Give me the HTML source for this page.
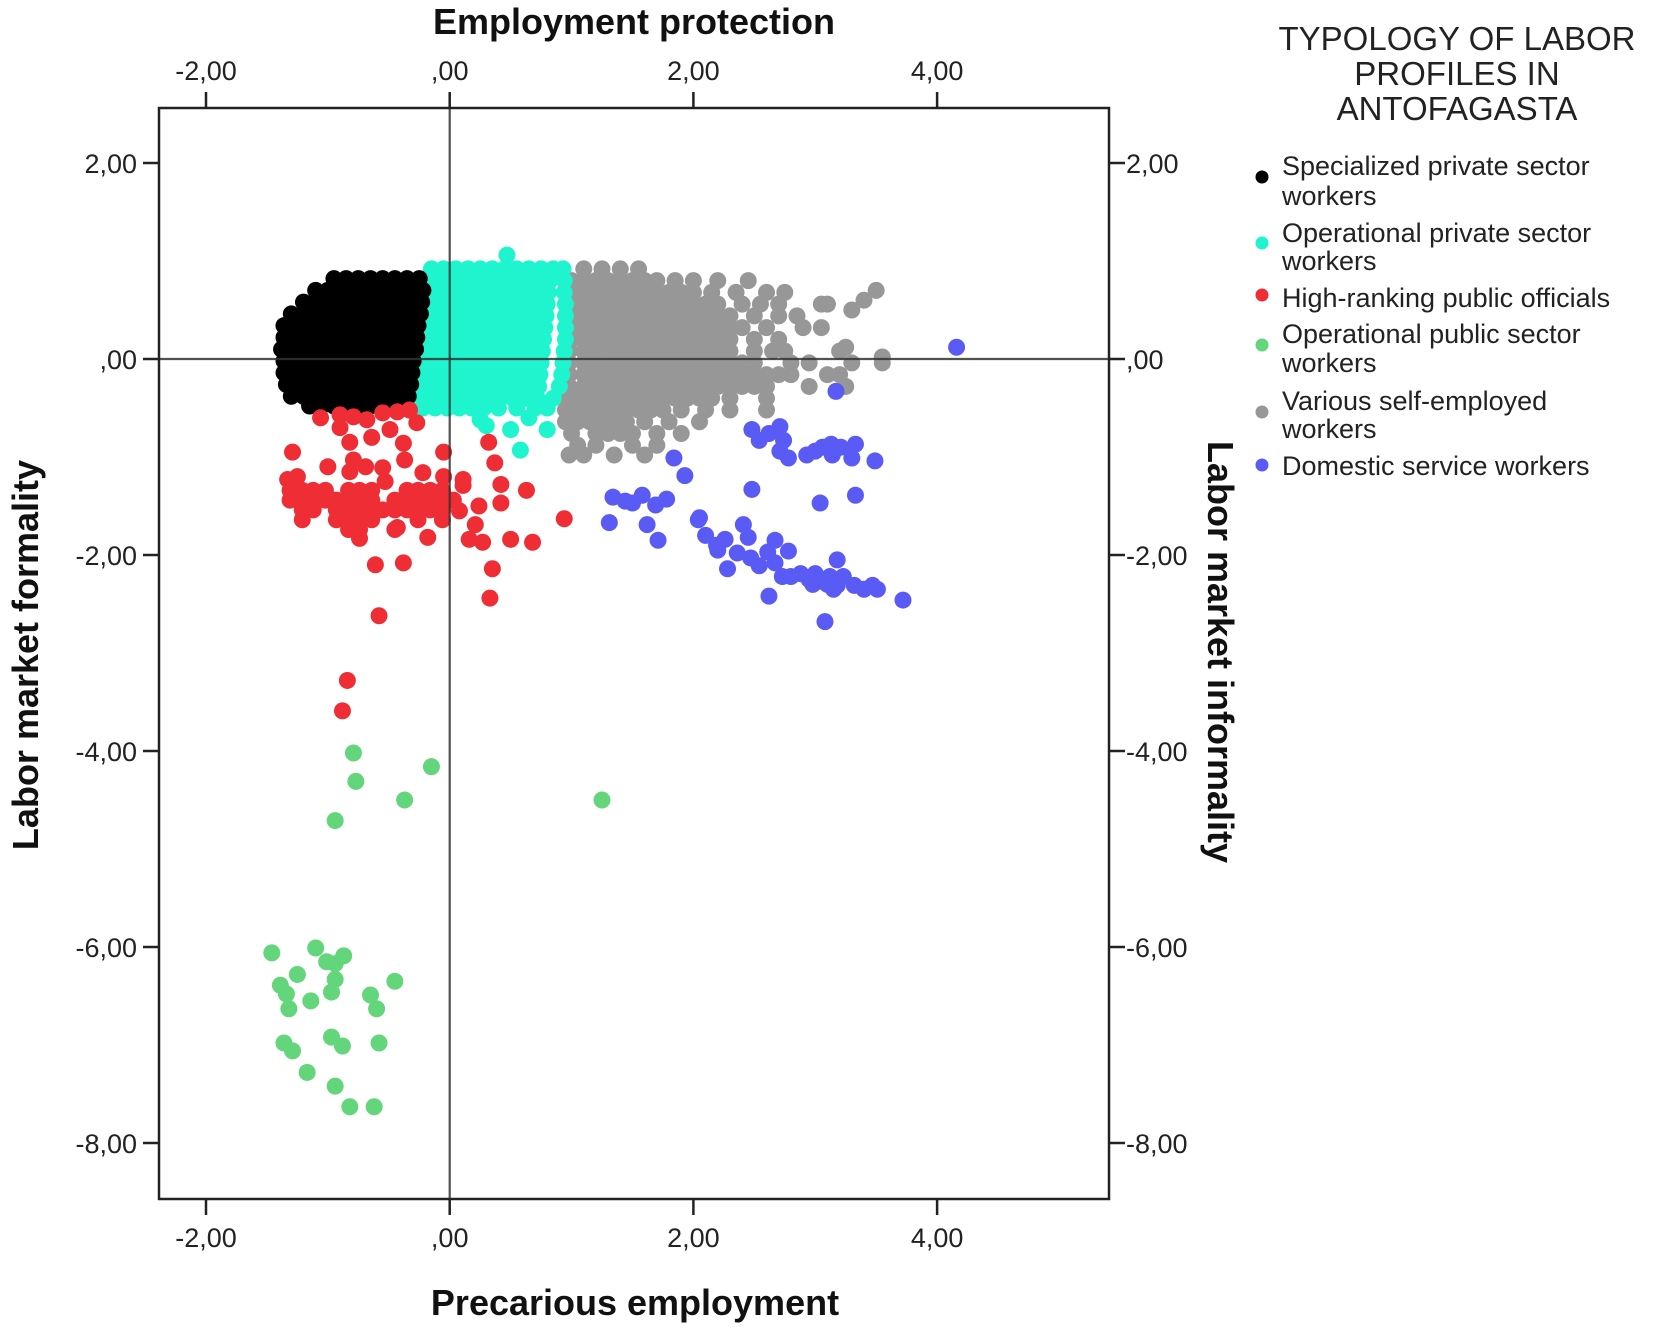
<!DOCTYPE html>
<html><head><meta charset="utf-8"><style>
html,body{margin:0;padding:0;background:#fff;}
svg{display:block;font-family:"Liberation Sans",sans-serif;}
</style></head><body>
<svg id="chart" width="1654" height="1330" viewBox="0 0 1654 1330" xmlns="http://www.w3.org/2000/svg">
<g id="marks"></g>
<g id="axes"></g>
<g id="legend"></g>
</svg>
<script>
const xTicks = [-2, 0, 2, 4];
const yTicks = [2, 0, -2, -4, -6, -8];
const xTickLabels = ["-2,00", ",00", "2,00", "4,00"];
const yTickLabels = ["2,00", ",00", "-2,00", "-4,00", "-6,00", "-8,00"];
const seriesNames = ["Specialized private sector workers","Operational private sector workers","High-ranking public officials","Operational public sector workers","Various self-employed workers","Domestic service workers"];
const seriesColors = ["#000000","#1ef5cf","#ee2d35","#63d57a","#979797","#5a5af5"];

// Specialized private sector workers (rows: [y, x values])
const blackRows = [
 [0.82,[-0.95,-0.85,-0.75,-0.65,-0.55,-0.45,-0.35,-0.25]],
 [0.70,[-1.1,-1.0,-0.9,-0.8,-0.7,-0.6,-0.5,-0.4,-0.3,-0.22]],
 [0.58,[-1.2,-1.1,-1.0,-0.9,-0.8,-0.7,-0.6,-0.5,-0.4,-0.3,-0.23]],
 [0.46,[-1.3,-1.2,-1.1,-1.0,-0.9,-0.8,-0.7,-0.6,-0.5,-0.4,-0.3,-0.24]],
 [0.34,[-1.36,-1.26,-1.16,-1.06,-0.96,-0.86,-0.76,-0.66,-0.56,-0.46,-0.36,-0.26]],
 [0.22,[-1.36,-1.26,-1.16,-1.06,-0.96,-0.86,-0.76,-0.66,-0.56,-0.46,-0.36,-0.27]],
 [0.10,[-1.38,-1.28,-1.18,-1.08,-0.98,-0.88,-0.78,-0.68,-0.58,-0.48,-0.38,-0.28]],
 [-0.02,[-1.36,-1.26,-1.16,-1.06,-0.96,-0.86,-0.76,-0.66,-0.56,-0.46,-0.38,-0.30]],
 [-0.14,[-1.36,-1.26,-1.16,-1.06,-0.96,-0.86,-0.76,-0.66,-0.56,-0.46,-0.38,-0.31]],
 [-0.26,[-1.34,-1.24,-1.14,-1.04,-0.94,-0.84,-0.74,-0.64,-0.54,-0.44,-0.32]],
 [-0.38,[-1.30,-1.20,-1.10,-1.00,-0.90,-0.80,-0.70,-0.60,-0.50,-0.42,-0.34]],
 [-0.48,[-1.15,-1.05,-0.95,-0.85,-0.75,-0.65,-0.55,-0.45,-0.36]]
];
// Operational private sector workers
const cyanRows = [
 [0.92,[-0.15,-0.05,0.05,0.15,0.25,0.35,0.45,0.55,0.65,0.75,0.85,0.93]],
 [0.80,[-0.18,-0.08,0.02,0.12,0.22,0.32,0.42,0.52,0.62,0.72,0.82,0.94]],
 [0.68,[-0.19,-0.09,0.01,0.11,0.21,0.31,0.41,0.51,0.61,0.71,0.81,0.94]],
 [0.56,[-0.20,-0.10,0.00,0.10,0.20,0.30,0.40,0.50,0.60,0.70,0.80,0.95]],
 [0.44,[-0.21,-0.11,-0.01,0.09,0.19,0.29,0.39,0.49,0.59,0.69,0.79,0.95]],
 [0.32,[-0.22,-0.12,-0.02,0.08,0.18,0.28,0.38,0.48,0.58,0.68,0.78,0.95]],
 [0.20,[-0.23,-0.13,-0.03,0.07,0.17,0.27,0.37,0.47,0.57,0.67,0.77,0.95]],
 [0.08,[-0.24,-0.14,-0.04,0.06,0.16,0.26,0.36,0.46,0.56,0.66,0.76,0.94]],
 [-0.04,[-0.25,-0.15,-0.05,0.05,0.15,0.25,0.35,0.45,0.55,0.65,0.75,0.93]],
 [-0.16,[-0.26,-0.16,-0.06,0.04,0.14,0.24,0.34,0.44,0.54,0.64,0.74,0.92]],
 [-0.28,[-0.27,-0.17,-0.07,0.03,0.13,0.23,0.33,0.43,0.53,0.63,0.73,0.90]],
 [-0.40,[-0.28,-0.18,-0.08,0.02,0.12,0.22,0.32,0.42,0.52,0.62,0.72,0.85]],
 [-0.50,[-0.22,-0.12,-0.02,0.08,0.18,0.28,0.40,0.55,0.70,0.80]]
];
const cyanExtra = [[0.47,1.06],[0.30,-0.68],[0.50,-0.72],[0.65,-0.60],[0.80,-0.72],[0.25,-0.62],[0.58,-0.93]];
// Various self-employed workers
const grayRows = [
 [0.92,[1.1,1.25,1.4,1.55]],
 [0.80,[1.0,1.1,1.2,1.3,1.4,1.5,1.6,1.7,1.85,2.0,2.2,2.45]],
 [0.68,[1.0,1.1,1.2,1.3,1.4,1.5,1.6,1.7,1.8,1.9,2.0,2.15,2.35,2.6,2.75]],
 [0.56,[1.0,1.1,1.2,1.3,1.4,1.5,1.6,1.7,1.8,1.9,2.0,2.1,2.2,2.4,2.55,2.7,3.05,3.1]],
 [0.44,[1.0,1.1,1.2,1.3,1.4,1.5,1.6,1.7,1.8,1.9,2.0,2.1,2.2,2.3,2.5,2.7,2.85]],
 [0.32,[1.0,1.1,1.2,1.3,1.4,1.5,1.6,1.7,1.8,1.9,2.0,2.1,2.2,2.3,2.4,2.6,2.9,3.05]],
 [0.20,[1.0,1.1,1.2,1.3,1.4,1.5,1.6,1.7,1.8,1.9,2.0,2.1,2.2,2.3,2.5,2.7]],
 [0.08,[0.98,1.1,1.2,1.3,1.4,1.5,1.6,1.7,1.8,1.9,2.0,2.1,2.2,2.3,2.5,2.65,2.75,3.2]],
 [-0.04,[0.98,1.1,1.2,1.3,1.4,1.5,1.6,1.7,1.8,1.9,2.0,2.1,2.2,2.3,2.4,2.5,2.8,2.95,3.3,3.55]],
 [-0.16,[0.98,1.1,1.2,1.3,1.4,1.5,1.6,1.7,1.8,1.9,2.0,2.1,2.2,2.3,2.4,2.5,2.6,2.7,2.8,3.1,3.2]],
 [-0.28,[0.98,1.1,1.2,1.3,1.4,1.5,1.6,1.7,1.8,1.9,2.0,2.1,2.2,2.3,2.4,2.5,2.6,2.95,3.25]],
 [-0.40,[0.95,1.05,1.15,1.25,1.35,1.45,1.55,1.65,1.75,1.85,1.95,2.05,2.15,2.3,2.6]],
 [-0.52,[0.95,1.05,1.15,1.25,1.35,1.45,1.55,1.65,1.75,1.9,2.1,2.3,2.6]],
 [-0.64,[0.95,1.05,1.15,1.25,1.35,1.45,1.6,1.8,2.05]],
 [-0.76,[1.0,1.2,1.3,1.4,1.5,1.7,1.9]],
 [-0.88,[1.05,1.2,1.5,1.7]],
 [-0.98,[0.98,1.1,1.35,1.6]]
];
const grayExtra = [[3.4,0.6],[3.5,0.7],[3.3,0.5],[3.55,0.02],[3.25,0.12]];
// High-ranking public officials
const redRows = [
 [-1.34,[-1.31,-1.21,-1.12,-1.02,-0.83,-0.74,-0.64,-0.35,-0.26,-0.16,-0.06]],
 [-1.44,[-1.31,-1.21,-1.12,-1.02,-0.93,-0.83,-0.74,-0.64,-0.45,-0.35,-0.26,-0.16,-0.06,0.03]],
 [-1.54,[-1.21,-1.12,-0.93,-0.83,-0.74,-0.64,-0.55,-0.45,-0.35,-0.26,-0.16,-0.06]],
 [-1.64,[-1.21,-0.93,-0.83,-0.74,-0.64,-0.26,-0.06]],
 [-1.74,[-0.83,-0.74,-0.45]]
];
const redExtra = [[-1.06,-0.60],[-0.90,-0.57],[-0.79,-0.59],[-0.68,-0.62],[-0.55,-0.55],[-0.43,-0.54],[-0.33,-0.52],[-0.27,-0.65],[-0.49,-0.72],[-0.90,-0.70],[-0.64,-0.80],[-0.82,-0.85],[-0.38,-0.86],[-1.29,-0.95],[-0.05,-0.95],[-0.37,-1.03],[-0.79,-1.03],[-1.00,-1.10],[-0.69,-1.10],[-0.55,-1.11],[-1.25,-1.20],[-0.82,-1.15],[-0.22,-1.16],[-0.05,-1.20],[0.11,-1.23],[-1.33,-1.23],[-0.53,-1.25],[0.11,-1.29],[-0.74,-1.83],[-0.43,-1.72],[-0.18,-1.82],
 [0.32,-0.85],[0.37,-1.06],[0.42,-1.28],[0.63,-1.34],[0.42,-1.47],[0.24,-1.50],[0.08,-1.55],[0.21,-1.69],[0.16,-1.84],[0.27,-1.87],[0.50,-1.84],[0.68,-1.87],[0.94,-1.63],[0.35,-2.14],[0.33,-2.44],[-0.38,-2.08],[-0.61,-2.10],[-0.58,-2.62],[-0.84,-3.28],[-0.88,-3.59]];
// Operational public sector workers
const greenPts = [[-0.79,-4.02],[-0.77,-4.31],[-0.15,-4.16],[-0.37,-4.50],[-0.94,-4.71],[1.25,-4.50],
 [-1.46,-6.06],[-1.10,-6.01],[-1.01,-6.15],[-0.94,-6.17],[-0.87,-6.09],[-1.25,-6.28],[-1.39,-6.39],[-1.32,-6.63],[-1.34,-6.48],[-1.14,-6.55],[-0.94,-6.33],[-0.97,-6.46],[-0.65,-6.49],[-0.60,-6.63],[-0.45,-6.35],[-1.36,-6.98],[-1.29,-7.06],[-0.97,-6.92],[-0.88,-7.01],[-0.58,-6.98],[-1.17,-7.28],[-0.94,-7.42],[-0.82,-7.63],[-0.62,-7.63]];
// Domestic service workers
const bluePts = [[4.16,0.12],[3.17,-0.33],[1.84,-1.01],[1.93,-1.19],[2.48,-0.72],[2.54,-0.83],[2.62,-0.76],[2.71,-0.69],[2.74,-0.83],[2.71,-0.94],[2.78,-1.01],[2.93,-0.98],[3.0,-0.94],[3.06,-0.90],[3.13,-0.87],[3.14,-0.98],[3.21,-0.90],[3.30,-1.01],[3.33,-0.87],[3.49,-1.04],[2.48,-1.33],[1.34,-1.41],[1.44,-1.45],[1.50,-1.47],[1.58,-1.39],[1.69,-1.49],[1.78,-1.43],[1.62,-1.69],[1.71,-1.85],[1.31,-1.67],[2.04,-1.64],[2.10,-1.80],[2.26,-1.84],[2.19,-1.90],[2.41,-1.69],[2.45,-1.82],[2.36,-1.98],[2.28,-2.14],[2.47,-2.03],[2.54,-2.11],[2.61,-1.97],[2.67,-2.08],[2.73,-2.22],[2.62,-2.42],[2.80,-2.22],[2.88,-2.19],[2.95,-2.25],[3.0,-2.19],[3.06,-2.27],[3.12,-2.22],[3.18,-2.31],[3.23,-2.22],[3.18,-2.05],[3.04,-1.47],[3.32,-2.31],[3.40,-2.35],[3.47,-2.31],[3.51,-2.35],[3.72,-2.46],[3.08,-2.68],[3.33,-1.39],[2.67,-1.85],[2.78,-1.96],[3.10,-2.30],[3.15,-2.35],[2.98,-2.30],[2.05,-1.62],[2.20,-1.95]];

const NS="http://www.w3.org/2000/svg";
const P={l:159,r:1109,t:108,b:1199};
const X0=449.7, XS=121.85, Y0=359, YS=98;
function sx(v){return X0+v*XS;}
function sy(v){return Y0-v*YS;}
function mk(tag,attrs,parent){const e=document.createElementNS(NS,tag);for(const k in attrs)e.setAttribute(k,attrs[k]);parent.appendChild(e);return e;}
const marks=document.getElementById('marks'), axes=document.getElementById('axes'), legend=document.getElementById('legend');

function rowsToPts(rows){const out=[];rows.forEach(r=>r[1].forEach(x=>out.push([x,r[0]])));return out;}
const series=[rowsToPts(blackRows), rowsToPts(cyanRows).concat(cyanExtra), rowsToPts(redRows).concat(redExtra), greenPts, rowsToPts(grayRows).concat(grayExtra), bluePts];
const drawOrder=[4,1,0,2,3,5];
drawOrder.forEach(si=>{
  const g=mk('g',{},marks);
  
  
  series[si].forEach(p=>{
    const c=mk('circle',{cx:sx(p[0]),cy:sy(p[1]),r:8.5,fill:seriesColors[si]},g);
    
    
  });
});
const rl1=mk('line',{x1:sx(0),x2:sx(0),y1:P.t,y2:P.b,stroke:'#333','stroke-width':2.2,'stroke-opacity':0.85},axes);


const rl2=mk('line',{x1:P.l,x2:P.r,y1:sy(0),y2:sy(0),stroke:'#333','stroke-width':2.2,'stroke-opacity':0.85},axes);


const fr=mk('rect',{x:P.l,y:P.t,width:P.r-P.l,height:P.b-P.t,fill:'none',stroke:'#222','stroke-width':2.5},axes);


xTicks.forEach((v,i)=>{
  const x=sx(v);
  mk('line',{x1:x,x2:x,y1:P.t,y2:P.t-16,stroke:'#222','stroke-width':2.5},axes);
  mk('line',{x1:x,x2:x,y1:P.b,y2:P.b+16,stroke:'#222','stroke-width':2.5},axes);
  const t1=mk('text',{x:x,y:80,'text-anchor':'middle','font-size':27,fill:'#222'},axes);t1.textContent=xTickLabels[i];
  
  
  const t2=mk('text',{x:x,y:1247,'text-anchor':'middle','font-size':27,fill:'#222'},axes);t2.textContent=xTickLabels[i];
  
  
});
yTicks.forEach((v,i)=>{
  const y=sy(v);
  mk('line',{x1:P.l,x2:P.l-16,y1:y,y2:y,stroke:'#222','stroke-width':2.5},axes);
  mk('line',{x1:P.r,x2:P.r+16,y1:y,y2:y,stroke:'#222','stroke-width':2.5},axes);
  const t1=mk('text',{x:137,y:y+10,'text-anchor':'end','font-size':27,fill:'#222'},axes);t1.textContent=yTickLabels[i];
  
  
  const t2=mk('text',{x:1126,y:y+10,'text-anchor':'start','font-size':27,fill:'#222'},axes);t2.textContent=yTickLabels[i];
  
  
});
</script>
<svg style="position:absolute;left:0;top:0" width="1654" height="1330">
<text x="634" y="34" text-anchor="middle" font-family="Liberation Sans, sans-serif" font-weight="bold" font-size="36" fill="#111">Employment protection</text>
<text x="635" y="1315" text-anchor="middle" font-family="Liberation Sans, sans-serif" font-weight="bold" font-size="36" fill="#111">Precarious employment</text>
<text transform="translate(38,655) rotate(-90)" text-anchor="middle" font-family="Liberation Sans, sans-serif" font-weight="bold" font-size="36" fill="#111">Labor market formality</text>
<text transform="translate(1208,652) rotate(90)" text-anchor="middle" font-family="Liberation Sans, sans-serif" font-weight="bold" font-size="36" fill="#111">Labor market informality</text>
<g font-family="Liberation Sans, sans-serif" font-size="33" fill="#222" text-anchor="middle">
<text x="1457" y="50">TYPOLOGY OF LABOR</text>
<text x="1457" y="85">PROFILES IN</text>
<text x="1457" y="120">ANTOFAGASTA</text>
</g>
<g font-family="Liberation Sans, sans-serif" font-size="27" fill="#222">
<g><circle cx="1262" cy="177" r="6.5" fill="#000"/><text x="1282" y="175">Specialized private sector</text><text x="1282" y="205">workers</text></g>
<g><circle cx="1262" cy="243" r="6.5" fill="#1ef5cf"/><text x="1282" y="242">Operational private sector</text><text x="1282" y="270">workers</text></g>
<g><circle cx="1262" cy="295" r="6.5" fill="#ee2d35"/><text x="1282" y="307">High-ranking public officials</text></g>
<g><circle cx="1262" cy="345" r="6.5" fill="#63d57a"/><text x="1282" y="343">Operational public sector</text><text x="1282" y="372">workers</text></g>
<g><circle cx="1262" cy="412" r="6.5" fill="#979797"/><text x="1282" y="410">Various self-employed</text><text x="1282" y="438">workers</text></g>
<g><circle cx="1262" cy="465" r="6.5" fill="#5a5af5"/><text x="1282" y="475">Domestic service workers</text></g>
</g>
</svg>
</body></html>
